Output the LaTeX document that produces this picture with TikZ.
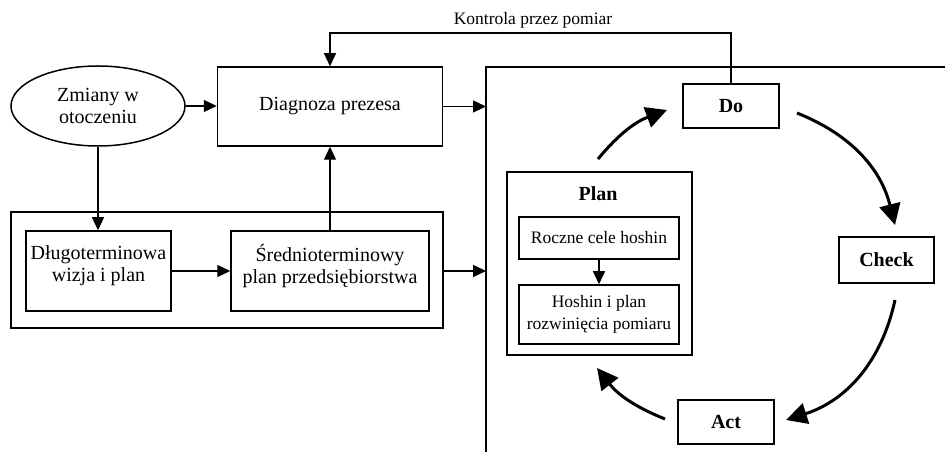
\documentclass[tikz,border=0pt]{standalone}
\usepackage{fontspec}
\setmainfont{Liberation Serif}
\usetikzlibrary{arrows.meta,shapes.geometric}

\begin{document}
\begin{tikzpicture}[x=1pt,y=1pt,
  box/.style={draw,line width=1.5pt,inner sep=0pt,align=center,
              font=\fontsize{20}{22}\selectfont},
  smallbox/.style={box,font=\fontsize{17.5}{21.5}\selectfont},
  pdca/.style={box,font=\fontsize{20}{22}\selectfont\bfseries},
  arr/.style={line width=1.3pt,-{Triangle[length=13pt,width=12pt]}},
  cyc/.style={line width=3pt,-{Triangle[length=21pt,width=21pt]}}]
\useasboundingbox (0,0) rectangle (945,452);

% feedback label
\node[font=\fontsize{17.5}{20}\selectfont] (kontrola) at (533,432) {Kontrola przez pomiar};

% left part: environment, diagnosis and planning
\node[ellipse,draw,line width=1.5pt,minimum width=174pt,minimum height=80pt,
      inner sep=0pt,align=center,font=\fontsize{20}{22}\selectfont]
      (ell) at (98,346) {Zmiany w\\otoczeniu};
\node[box,minimum width=225pt,minimum height=79pt] (diag) at (330,345.5) {Diagnoza prezesa};
\node[box,minimum width=432pt,minimum height=116pt] (outer) at (227,182) {};
\node[box,minimum width=145pt,minimum height=80pt,text depth=14pt] (dlugo) at (98.5,181)
      {D\l ugoterminowa\\wizja i plan};
\node[box,minimum width=198pt,minimum height=80pt,text depth=14pt] (sred) at (330,181)
      {Średnioterminowy\\plan przedsiębiorstwa};

% right frame
\draw[line width=1.5pt] (945,385) -- (486,385) -- (486,0);
\coordinate (fa) at (486,345.5);
\coordinate (fb) at (486,181);
\coordinate (fbk) at (0,419);

% PDCA cycle
\node[pdca,minimum width=96pt,minimum height=44pt] (do) at (731,346) {Do};
\node[pdca,minimum width=95pt,minimum height=46pt] (check) at (886.5,192) {Check};
\node[pdca,minimum width=96pt,minimum height=44pt] (act) at (726,30) {Act};
\node[box,minimum width=185pt,minimum height=183pt] (planbox) at (599.5,188.5) {};
\node[font=\fontsize{20}{22}\selectfont\bfseries] (plan) at (598,258) {Plan};
\node[smallbox,minimum width=160pt,minimum height=42pt] (roczne) at (599,214)
      {Roczne cele hoshin};
\node[smallbox,minimum width=160pt,minimum height=59pt] (hoshin) at (599,137.5)
      {Hoshin i plan\\rozwinięcia pomiaru};

% connectors
\draw[arr] (ell.east) -- (ell.east -| diag.west);
\draw[arr] (ell.south) -- (ell.south |- dlugo.north);
\draw[arr] (dlugo.east) -- (sred.west);
\draw[arr] (sred.north) -- (diag.south);
\draw[arr] (diag.east) -- (fa);
\draw[arr] (outer.east |- sred) -- (fb);
\draw[arr] (do.north) -- (do.north |- fbk) -| (diag.north);
\draw[arr] (roczne.south) -- (hoshin.north);

% cycle arrows
\coordinate (c1s) at (598,293);  \coordinate (c1e) at (667,342);
\coordinate (c2s) at (797,339);  \coordinate (c2e) at (895,227);
\coordinate (c3s) at (895,152);  \coordinate (c3e) at (786,32);
\coordinate (c4s) at (665,33);   \coordinate (c4e) at (597,84);
\draw[cyc] (c1s) to[bend left=15] (c1e);
\draw[cyc] (c2s) to[bend left=27] (c2e);
\draw[cyc] (c3s) to[bend left=30] (c3e);
\draw[cyc] (c4s) to[bend left=15] (c4e);
\end{tikzpicture}
\end{document}
